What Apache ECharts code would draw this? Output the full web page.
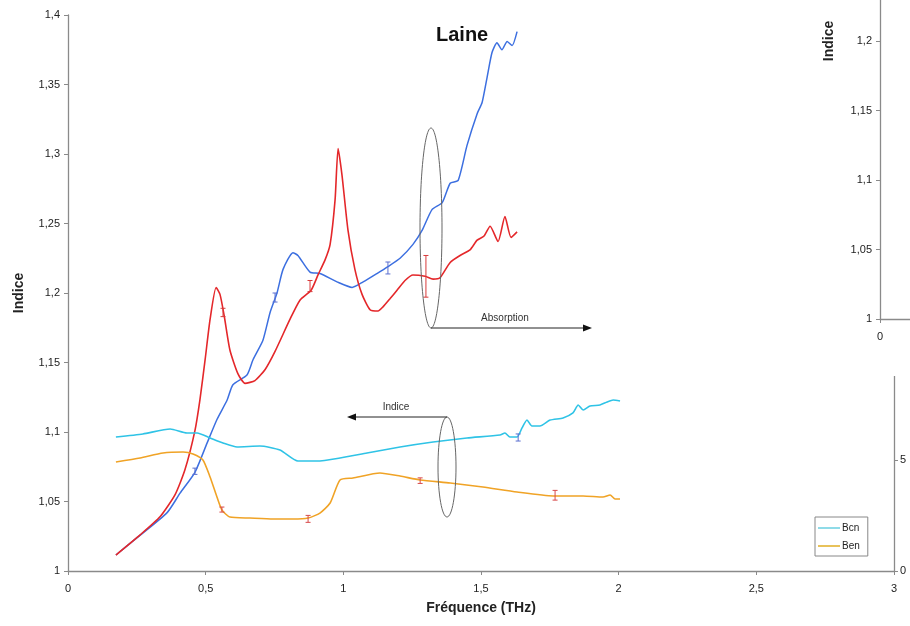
<!DOCTYPE html>
<html><head><meta charset="utf-8">
<script src="https://cdn.jsdelivr.net/npm/echarts@6/dist/echarts.min.js"></script>
<style>html,body{margin:0;padding:0;background:#fff}#c{width:910px;height:626px}</style>
</head><body><div id="c"></div>
<script>
// ---- data (Fréquence THz / Indice) ----
const blueX = [0.174,0.251,0.360,0.407,0.461,0.505,0.541,0.578,0.599,0.650,0.672,0.708,0.734,0.759,0.781,0.817,0.835,0.879,0.915,0.977,1.032,1.072,1.122,1.162,1.206,1.253,1.286,1.322,1.359,1.388,1.417,1.449,1.486,1.504,1.522,1.540,1.558,1.576,1.595,1.613,1.631];
const blueY = [1.0115,1.024,1.042,1.056,1.071,1.092,1.109,1.123,1.134,1.141,1.152,1.166,1.186,1.200,1.217,1.229,1.227,1.215,1.214,1.208,1.204,1.208,1.214,1.219,1.225,1.235,1.245,1.260,1.265,1.279,1.281,1.306,1.329,1.337,1.355,1.373,1.380,1.375,1.381,1.378,1.388];
const redX = [0.174,0.262,0.334,0.389,0.425,0.461,0.479,0.498,0.516,0.538,0.552,0.567,0.588,0.617,0.643,0.679,0.716,0.752,0.806,0.843,0.883,0.908,0.934,0.952,0.970,0.981,0.995,1.017,1.042,1.068,1.097,1.126,1.144,1.170,1.195,1.224,1.253,1.297,1.326,1.351,1.388,1.424,1.460,1.486,1.511,1.533,1.562,1.587,1.609,1.631];
const redY = [1.0115,1.026,1.039,1.055,1.073,1.101,1.123,1.152,1.181,1.204,1.199,1.184,1.159,1.142,1.135,1.137,1.145,1.158,1.181,1.195,1.202,1.213,1.224,1.235,1.267,1.304,1.285,1.245,1.217,1.199,1.188,1.187,1.190,1.196,1.202,1.209,1.213,1.212,1.210,1.211,1.222,1.227,1.231,1.238,1.241,1.248,1.237,1.255,1.240,1.244];
const bcnX = [0.174,0.272,0.371,0.432,0.469,0.516,0.563,0.614,0.697,0.770,0.835,0.904,0.988,1.086,1.206,1.326,1.449,1.569,1.587,1.605,1.631,1.649,1.667,1.685,1.714,1.751,1.798,1.834,1.853,1.871,1.896,1.932,1.958,1.980,2.005];
const bcnY = [1.0964,1.0986,1.1022,1.0993,1.0993,1.0957,1.0921,1.0892,1.0899,1.0870,1.0791,1.0791,1.0813,1.0849,1.0892,1.0928,1.0957,1.0978,1.0993,1.0964,1.0964,1.1029,1.1086,1.1043,1.1043,1.1086,1.1101,1.1137,1.1194,1.1158,1.1187,1.1194,1.1216,1.1230,1.1223];
const benX = [0.174,0.262,0.345,0.418,0.454,0.490,0.516,0.541,0.559,0.588,0.661,0.745,0.817,0.872,0.915,0.952,0.988,1.035,1.133,1.206,1.279,1.388,1.507,1.631,1.762,1.871,1.943,1.969,1.987,2.005];
const benY = [1.0784,1.0813,1.0849,1.0856,1.0842,1.0799,1.0676,1.0532,1.0439,1.0388,1.0381,1.0374,1.0374,1.0381,1.0417,1.0489,1.0655,1.0669,1.0705,1.0683,1.0655,1.0633,1.0604,1.0568,1.0540,1.0540,1.0532,1.0547,1.0518,1.0518];
// error bars: x, low, high
const errBlueX = [0.461,0.752,1.162];  const errBlueLo = [1.0695,1.1935,1.2137]; const errBlueHi = [1.0740,1.2000,1.2223];
const errRedX = [0.563,0.879,1.300];   const errRedLo = [1.1830,1.2010,1.1970];  const errRedHi = [1.1890,1.2090,1.2270];
const errBenX = [0.559,0.872,1.279,1.769]; const errBenLo = [1.0424,1.0350,1.0630,1.0510]; const errBenHi = [1.0460,1.0400,1.0670,1.0580];
const errBcnX = [1.635]; const errBcnLo = [1.0935]; const errBcnHi = [1.0986];
const xTicks = [0,0.5,1,1.5,2,2.5,3];

const zip = (a,b) => a.map((v,i)=>[v,b[i]]);
const zip3 = (a,b,c) => a.map((v,i)=>[v,b[i],c[i]]);
const fmt = v => String(+(+v).toFixed(3)).replace('.', ',');
const FONT = 'Liberation Sans, Arial, sans-serif';

function errSeries(name, data, color) {
  return {
    type: 'custom', name, xAxisIndex: 0, yAxisIndex: 0, z: 4,
    data,
    renderItem: (params, api) => {
      const lo = api.coord([api.value(0), api.value(1)]);
      const hi = api.coord([api.value(0), api.value(2)]);
      const w = 2.5;
      return { type: 'group', children: [
        { type: 'line', shape: {x1: lo[0], y1: lo[1], x2: hi[0], y2: hi[1]}, style: {stroke: color, lineWidth: 1}},
        { type: 'line', shape: {x1: lo[0]-w, y1: lo[1], x2: lo[0]+w, y2: lo[1]}, style: {stroke: color, lineWidth: 1}},
        { type: 'line', shape: {x1: hi[0]-w, y1: hi[1], x2: hi[0]+w, y2: hi[1]}, style: {stroke: color, lineWidth: 1}}
      ]};
    }
  };
}

const axisLine = {lineStyle: {color: '#8a8a8a', width: 1.3}};
const tickStyle = {show: true, length: 4, lineStyle: {color: '#8a8a8a'}};
const labelStyle = {color: '#222', fontSize: 11, fontFamily: FONT};

const chart = echarts.init(document.getElementById('c'), null, {renderer: 'canvas'});
chart.setOption({
  animation: false,
  backgroundColor: '#fff',
  title: {text: 'Laine', left: 431, top: 20, textStyle: {fontSize: 20, fontWeight: 'bold', fontFamily: FONT, color: '#111'}},
  legend: {
    data: ['Bcn', 'Ben'], orient: 'vertical', left: 815, top: 517,
    borderColor: '#888', borderWidth: 1, backgroundColor: '#fff', padding: [6, 8, 5, 3],
    itemWidth: 22, itemHeight: 2, itemGap: 8, icon: 'rect',
    textStyle: {fontSize: 10, fontFamily: FONT, color: '#222', padding: [0,0,0,-3]}
  },
  grid: [
    {left: 68, top: 15, width: 826, height: 556, outerBoundsMode: 'none', containLabel: false},
    {left: 880, top: -237, width: 826, height: 556, outerBoundsMode: 'none', containLabel: false}
  ],
  xAxis: [
    {type: 'value', gridIndex: 0, min: 0, max: 3, interval: 0.5, axisLine, axisTick: tickStyle,
     axisLabel: {...labelStyle, formatter: fmt, margin: 12}, splitLine: {show: false},
     name: 'Fréquence (THz)', nameLocation: 'middle', nameGap: 30,
     nameTextStyle: {fontSize: 14, fontWeight: 'bold', fontFamily: FONT, color: '#222'}},
    {type: 'value', gridIndex: 1, min: 0, max: 3, interval: 0.5, z: 10, axisLine, axisTick: tickStyle,
     axisLabel: {...labelStyle, formatter: fmt, margin: 12}, splitLine: {show: false}}
  ],
  yAxis: [
    {type: 'value', gridIndex: 0, min: 1, max: 1.4, interval: 0.05, axisLine: {show: true, ...axisLine},
     axisTick: {...tickStyle, inside: false}, axisLabel: {...labelStyle, formatter: fmt, margin: 8}, splitLine: {show: false},
     name: 'Indice', nameLocation: 'middle', nameGap: 42,
     nameTextStyle: {fontSize: 14, fontWeight: 'bold', fontFamily: FONT, color: '#222'}},
    {type: 'value', gridIndex: 0, position: 'right', min: 0, max: 25, interval: 5, axisLine: {show: true, ...axisLine},
     axisTick: tickStyle, axisLabel: {...labelStyle, margin: 6}, splitLine: {show: false}},
    {type: 'value', gridIndex: 1, min: 1, max: 1.4, interval: 0.05, z: 10, axisLine: {show: true, ...axisLine},
     axisTick: tickStyle, axisLabel: {...labelStyle, formatter: fmt, margin: 8}, splitLine: {show: false},
     name: 'Indice', nameLocation: 'middle', nameGap: 44,
     nameTextStyle: {fontSize: 14, fontWeight: 'bold', fontFamily: FONT, color: '#222'}}
  ],
  graphic: [
    {type: 'rect', z: 5, shape: {x: 798, y: 0, width: 112, height: 376}, style: {fill: '#fff'}},
    {type: 'ellipse', z: 6, shape: {cx: 431, cy: 228, rx: 11, ry: 100}, style: {fill: 'none', stroke: '#666', lineWidth: 1}},
    {type: 'line', z: 6, shape: {x1: 431, y1: 328, x2: 584, y2: 328}, style: {stroke: '#222', lineWidth: 1}},
    {type: 'polygon', z: 6, shape: {points: [[592,328],[583,324.5],[583,331.5]]}, style: {fill: '#111'}},
    {type: 'text', z: 6, style: {text: 'Absorption', x: 505, y: 318, align: 'center', verticalAlign: 'middle', fontSize: 10, fontFamily: FONT, fill: '#333'}},
    {type: 'ellipse', z: 6, shape: {cx: 447, cy: 467, rx: 9, ry: 50}, style: {fill: 'none', stroke: '#666', lineWidth: 1}},
    {type: 'line', z: 6, shape: {x1: 447, y1: 417, x2: 355, y2: 417}, style: {stroke: '#222', lineWidth: 1}},
    {type: 'polygon', z: 6, shape: {points: [[347,417],[356,413.5],[356,420.5]]}, style: {fill: '#111'}},
    {type: 'text', z: 6, style: {text: 'Indice', x: 396, y: 407, align: 'center', verticalAlign: 'middle', fontSize: 10, fontFamily: FONT, fill: '#333'}}
  ],
  series: [
    {type: 'line', name: 'Laine indice', data: zip(blueX, blueY), smooth: 0.2, symbol: 'none', lineStyle: {color: '#3c6fe0', width: 1.5}, itemStyle: {color: '#3c6fe0'}},
    {type: 'line', name: 'Laine absorption', data: zip(redX, redY), smooth: 0.2, symbol: 'none', lineStyle: {color: '#e4272a', width: 1.6}, itemStyle: {color: '#e4272a'}},
    {type: 'line', name: 'Bcn', data: zip(bcnX, bcnY), smooth: 0.2, symbol: 'none', lineStyle: {color: '#2fc3e6', width: 1.6}, itemStyle: {color: '#8fdbe8'}},
    {type: 'line', name: 'Ben', data: zip(benX, benY), smooth: 0.2, symbol: 'none', lineStyle: {color: '#f0a326', width: 1.6}, itemStyle: {color: '#e8c25a'}},
    errSeries('errBlue', zip3(errBlueX, errBlueLo, errBlueHi), '#5a6fd0'),
    errSeries('errRed', zip3(errRedX, errRedLo, errRedHi), '#d83a3a'),
    errSeries('errBen', zip3(errBenX, errBenLo, errBenHi), '#d84a4a'),
    errSeries('errBcn', zip3(errBcnX, errBcnLo, errBcnHi), '#5a6fd0')
  ]
});
</script></body></html>
